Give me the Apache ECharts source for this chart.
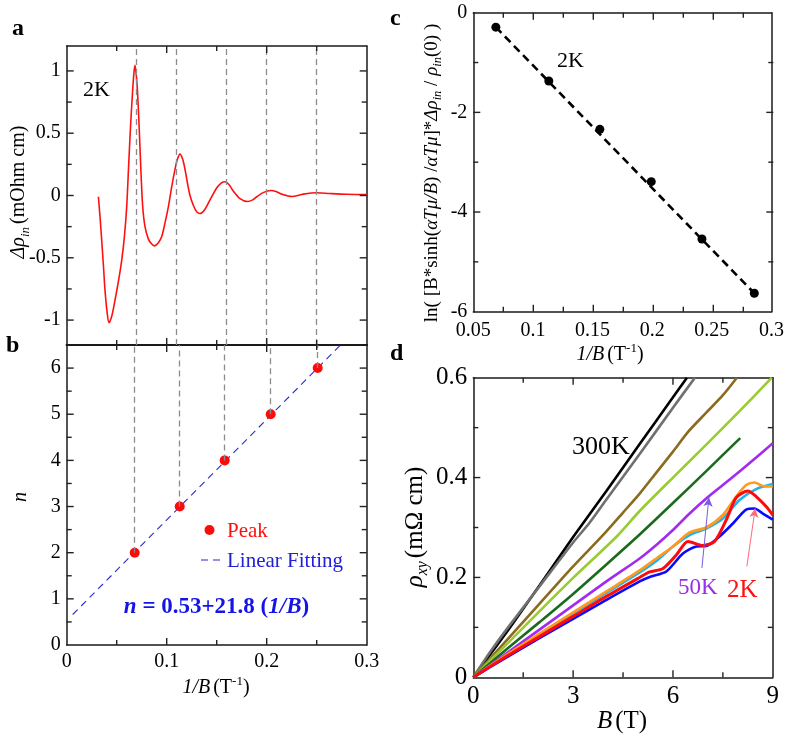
<!DOCTYPE html>
<html><head><meta charset="utf-8">
<script src="https://cdn.jsdelivr.net/npm/echarts@6/dist/echarts.min.js"></script>
<style>html,body{margin:0;padding:0;background:#fff}#c{width:787px;height:736px}</style>
</head><body><div id="c"></div>
<script>
// ---------------- DATA ----------------
// Panel a: Δρ_in vs 1/B (2K)
const aInvB = [0.0317,0.0335,0.0350,0.0367,0.0383,0.0403,0.0423,0.0450,0.0483,0.0517,0.0550,0.0577,0.0600,0.0620,0.0640,0.0660,0.0673,0.0683,0.0693,0.0707,0.0727,0.0743,0.0760,0.0783,0.0817,0.0850,0.0877,0.0917,0.0950,0.0983,0.1017,0.1050,0.1083,0.1107,0.1133,0.1160,0.1183,0.1210,0.1233,0.1267,0.1300,0.1333,0.1383,0.1433,0.1500,0.1545,0.1583,0.1620,0.1667,0.1733,0.1807,0.1860,0.1900,0.1970,0.2040,0.2100,0.2150,0.2250,0.2367,0.2500,0.2633,0.2800,0.3000];
const aDrho = [-0.01,-0.19,-0.36,-0.56,-0.76,-0.93,-1.02,-0.97,-0.84,-0.69,-0.52,-0.33,-0.09,0.25,0.58,0.85,0.99,1.045,0.99,0.85,0.50,0.18,-0.09,-0.25,-0.35,-0.39,-0.404,-0.38,-0.33,-0.22,-0.09,0.07,0.21,0.29,0.332,0.29,0.21,0.09,0.0,-0.08,-0.13,-0.145,-0.11,-0.035,0.06,0.10,0.11,0.09,0.035,-0.025,-0.048,-0.035,-0.01,0.025,0.04,0.03,0.011,-0.008,0.011,0.022,0.016,0.01,0.007];
// Panel b: Landau level index of peaks
const peakInvB = [0.068, 0.113, 0.158, 0.204, 0.251];
const peakN = [2, 3, 4, 5, 6];
const fitIntercept = 0.53, fitSlope = 21.8;
const fitInvBRange = [0.006, 0.2735];
// Panel c
const cInvB = [0.0689, 0.1133, 0.1561, 0.1992, 0.2417, 0.2856];
const cLn = [-0.29, -1.37, -2.34, -3.39, -4.54, -5.63];
// Panel d: ρxy vs B at several temperatures
const d300KB = [0,1,2,3,4,5,6,6.42];
const d300KR = [0,0.09,0.185,0.281,0.373,0.467,0.561,0.6];
const dGrayB = [0,0.5,1,2,3,3.5,4,5,6,6.66];
const dGrayR = [0,0.05,0.096,0.183,0.27,0.31,0.356,0.447,0.54,0.6];
const dBrownB = [0,1,2,3,3.86,4.5,5,5.5,6,6.46,7,7.5,7.92];
const dBrownR = [0,0.074,0.148,0.222,0.282,0.33,0.368,0.41,0.452,0.492,0.53,0.565,0.6];
const dLimeB = [0,1,2,3,4.31,5,6,7,8,8.97];
const dLimeR = [0,0.066,0.133,0.199,0.282,0.333,0.4,0.466,0.533,0.6];
const dGreenB = [0,1,2,3,4,5,6,7,8.02];
const dGreenR = [0,0.056,0.111,0.167,0.226,0.286,0.349,0.413,0.479];
const d50KB = [0,1,2,3,4,5,5.5,6,6.5,7,7.5,8,8.5,9];
const d50KR = [0,0.048,0.096,0.144,0.192,0.238,0.265,0.295,0.328,0.358,0.385,0.412,0.44,0.469];
const dCyanB = [0,1,2,3,4,5,5.5,6,6.5,7,7.5,8,8.5,9];
const dCyanR = [0,0.044,0.086,0.128,0.169,0.21,0.233,0.262,0.285,0.298,0.318,0.355,0.377,0.387];
const dOrangeB = [0,1,2,3,4,5,5.5,6,6.5,7,7.5,7.9,8.2,8.45,8.7,9];
const dOrangeR = [0,0.045,0.088,0.13,0.172,0.214,0.238,0.262,0.29,0.3,0.325,0.362,0.385,0.39,0.383,0.382];
const dBlueB = [0,1,2,3,4,5,5.3,5.8,6.3,6.7,7.0,7.4,7.8,8.2,8.45,8.7,9];
const dBlueR = [0,0.04,0.079,0.117,0.155,0.192,0.201,0.212,0.248,0.262,0.263,0.282,0.308,0.336,0.338,0.328,0.316];
const d2KB = [0,1,2,3,4,5,5.3,5.7,6.1,6.45,6.9,7.25,7.6,7.9,8.25,8.5,8.8,9];
const d2KR = [0,0.042,0.082,0.122,0.162,0.2,0.211,0.218,0.245,0.272,0.264,0.272,0.315,0.36,0.373,0.362,0.342,0.325];

// ---------------- LAYOUT / HELPERS ----------------
const GA = {left: 66.7, top: 46, width: 300, height: 299};
const GB = {left: 66.7, top: 345, width: 300, height: 300};
const GC = {left: 473.3, top: 12.7, width: 300, height: 299};
const GD = {left: 473.3, top: 377.7, width: 299.5, height: 299.6};
const zip = (xs, ys) => xs.map((x, i) => [x, ys[i]]);
const FONT = "'Liberation Serif', 'Times New Roman', 'DejaVu Serif', serif";
const INK = '#1a1a1a';

function xAx(grid, pos, min, max, interval, showLabel, fs, lw) {
  return {
    type: 'value', gridIndex: grid, position: pos, min: min, max: max, interval: interval,
    axisLine: {show: true, onZero: false, lineStyle: {color: INK, width: lw || 1.5}},
    axisTick: {show: false}, minorTick: {show: false},
    splitLine: {show: false}, minorSplitLine: {show: false},
    axisLabel: {show: showLabel, margin: 7, fontFamily: FONT, fontSize: fs || 20, color: '#000'}
  };
}
function yAx(grid, pos, min, max, interval, showLabel, fs, fmt) {
  const ax = {
    type: 'value', gridIndex: grid, position: pos, min: min, max: max,
    axisLine: {show: true, onZero: false, lineStyle: {color: INK, width: 1.5}},
    axisTick: {show: false}, minorTick: {show: false},
    splitLine: {show: false}, minorSplitLine: {show: false},
    axisLabel: {show: showLabel, margin: 6, fontFamily: FONT, fontSize: fs || 20, color: '#000'}
  };
  if (interval != null) ax.interval = interval; else ax.splitNumber = 5;
  if (fmt) ax.axisLabel.formatter = fmt;
  return ax;
}
const fmtA = v => (Math.abs(v * 2 - Math.round(v * 2)) < 1e-6 ? String(Math.round(v * 2) / 2) : '');
const fmtB = v => (Number.isInteger(v) ? String(v) : '');

function steps(lo, hi, step) {
  const out = [];
  const n = Math.round((hi - lo) / step);
  for (let k = 0; k <= n; k++) out.push(+(lo + k * step).toFixed(6));
  return out;
}

function txt(x, y, rich, parts, extra) {
  return {
    type: 'text', x: x, y: y, silent: true,
    style: Object.assign({text: parts, align: 'center', verticalAlign: 'middle', rich: rich, fontFamily: FONT}, extra || {})
  };
}
const R20 = {
  n: {fontFamily: FONT, fontSize: 20, lineHeight: 26, fill: '#000'},
  i: {fontFamily: FONT, fontSize: 20, lineHeight: 26, fontStyle: 'italic', fill: '#000'},
  sub: {fontFamily: FONT, fontSize: 13, lineHeight: 13, fontStyle: 'italic', verticalAlign: 'bottom', fill: '#000'},
  sup: {fontFamily: FONT, fontSize: 13, lineHeight: 14, verticalAlign: 'top', fill: '#000'}
};
const R18 = {
  n: {fontFamily: FONT, fontSize: 19, lineHeight: 24, fill: '#000'},
  i: {fontFamily: FONT, fontSize: 19, lineHeight: 24, fontStyle: 'italic', fill: '#000'},
  sub: {fontFamily: FONT, fontSize: 12.5, lineHeight: 12, fontStyle: 'italic', verticalAlign: 'bottom', fill: '#000'}
};
const R25 = {
  n: {fontFamily: FONT, fontSize: 25, lineHeight: 32, fill: '#000'},
  i: {fontFamily: FONT, fontSize: 25, lineHeight: 32, fontStyle: 'italic', fill: '#000'},
  sub: {fontFamily: FONT, fontSize: 16, lineHeight: 16, fontStyle: 'italic', verticalAlign: 'bottom', fill: '#000'}
};
const RF = {
  b: {fontFamily: FONT, fontSize: 23, fontWeight: 'bold', fill: '#1414e6'},
  bi: {fontFamily: FONT, fontSize: 23, fontWeight: 'bold', fontStyle: 'italic', fill: '#1414e6'}
};

const lineD = (name, xs, ys, color, extra) => Object.assign({
  name: name, type: 'line', xAxisIndex: 6, yAxisIndex: 6, data: zip(xs, ys),
  showSymbol: false, symbol: 'none', smooth: 0.25,
  lineStyle: {color: color, width: 2.6}, itemStyle: {color: color}, z: 3
}, extra || {});

const gridTopN = 6.5;

// ---- inward tick marks on all four sides of each panel (axis decoration) ----
const tickDefs = [
  {g: GA, xr: [0, 0.3], yr: [-1.2, 1.2], xt: steps(0, 0.3, 0.05), yt: steps(-1, 1, 0.25), xm: 0.1, ym: 0.5},
  {g: GB, xr: [0, 0.3], yr: [0, gridTopN], xt: steps(0, 0.3, 0.05), yt: steps(0, 6.5, 0.5), xm: 0.1, ym: 1},
  {g: GC, xr: [0.05, 0.3], yr: [-6, 0], xt: steps(0.05, 0.3, 0.025), yt: steps(-6, 0, 1), xm: 0.05, ym: 2},
  {g: GD, xr: [0, 9], yr: [0, 0.6], xt: steps(0, 9, 1.5), yt: steps(0, 0.6, 0.1), xm: 3, ym: 0.2}
];
const isMaj = (v, m) => Math.abs(v / m - Math.round(v / m)) < 1e-6;
function buildTicks() {
  const els = [];
  const mk = (x1, y1, x2, y2) => ({type: 'line', silent: true, z: 50,
    shape: {x1: x1, y1: y1, x2: x2, y2: y2}, style: {stroke: '#222', lineWidth: 1.4}});
  tickDefs.forEach(d => {
    const g = d.g;
    const X = v => g.left + (v - d.xr[0]) / (d.xr[1] - d.xr[0]) * g.width;
    const Y = v => g.top + (d.yr[1] - v) / (d.yr[1] - d.yr[0]) * g.height;
    const bottom = g.top + g.height, top = g.top, left = g.left, right = g.left + g.width;
    d.xt.forEach(v => {
      if (v <= d.xr[0] + 1e-9 || v >= d.xr[1] - 1e-9) return;
      const L = isMaj(v, d.xm) ? 7 : 5;
      const px = X(v);
      els.push(mk(px, bottom, px, bottom - L));
      els.push(mk(px, top, px, top + L));
    });
    d.yt.forEach(v => {
      if (v <= d.yr[0] + 1e-9 || v >= d.yr[1] - 1e-9) return;
      const L = isMaj(v, d.ym) ? 7 : 5;
      const py = Y(v);
      els.push(mk(left, py, left + L, py));
      els.push(mk(right, py, right - L, py));
    });
  });
  return els;
}

const xAxes = [
  xAx(0, 'bottom', 0, 0.3, 0.1, false, 20, 2),
  xAx(0, 'top', 0, 0.3, 0.1, false),
  xAx(1, 'bottom', 0, 0.3, 0.1, true),
  xAx(1, 'top', 0, 0.3, 0.1, false, 20, 2),
  xAx(2, 'bottom', 0.05, 0.3, 0.05, true),
  xAx(2, 'top', 0.05, 0.3, 0.05, false),
  xAx(3, 'bottom', 0, 9, 3, true, 25),
  xAx(3, 'top', 0, 9, 3, false)
];
xAxes[4].axisLabel.margin = 9;

const tickEls = buildTicks();

const baseGraphic = tickEls.concat([
  {type: 'text', x: 12, y: 29, silent: true, style: {text: 'a', fontFamily: FONT, fontSize: 24, fontWeight: 'bold', fill: '#000', verticalAlign: 'middle'}},
  {type: 'text', x: 6, y: 346, silent: true, style: {text: 'b', fontFamily: FONT, fontSize: 24, fontWeight: 'bold', fill: '#000', verticalAlign: 'middle'}},
  {type: 'text', x: 390, y: 19, silent: true, style: {text: 'c', fontFamily: FONT, fontSize: 24, fontWeight: 'bold', fill: '#000', verticalAlign: 'middle'}},
  {type: 'text', x: 390, y: 354, silent: true, style: {text: 'd', fontFamily: FONT, fontSize: 24, fontWeight: 'bold', fill: '#000', verticalAlign: 'middle'}},
  Object.assign(txt(19, 192, R20, '{i|Δρ}{sub|in} {n|(mOhm cm)}'), {rotation: Math.PI / 2}),
  Object.assign(txt(21, 497, R20, '{i|n}'), {rotation: Math.PI / 2}),
  txt(216, 688, R20, '{i|1/B} {n|(T}{sup|-1}{n|)}'),
  Object.assign(txt(432, 173, R18, '{n|ln( [B*sinh(}{i|αTμ/B}{n|) /}{i|αTμ}{n|]*}{i|Δρ}{sub|in}{n| / }{i|ρ}{sub|in}{n|(0) )}'), {rotation: Math.PI / 2}),
  txt(610, 355, R20, '{i|1/B} {n|(T}{sup|-1}{n|)}'),
  Object.assign(txt(415, 527, R25, '{i|ρ}{sub|xy} {n|(mΩ cm)}'), {rotation: Math.PI / 2}),
  txt(622, 721, R25, '{i|B} {n|(T)}'),
  {type: 'text', x: 83, y: 90, silent: true, style: {text: '2K', fontFamily: FONT, fontSize: 22, fill: '#000', verticalAlign: 'middle'}},
  {type: 'text', x: 557, y: 61, silent: true, style: {text: '2K', fontFamily: FONT, fontSize: 22, fill: '#000', verticalAlign: 'middle'}},
  {type: 'text', x: 572, y: 447, silent: true, style: {text: '300K', fontFamily: FONT, fontSize: 26, fill: '#000', verticalAlign: 'middle'}},
  {type: 'text', x: 678, y: 588, silent: true, style: {text: '50K', fontFamily: FONT, fontSize: 23, fill: '#9a2ee8', verticalAlign: 'middle'}},
  {type: 'text', x: 727, y: 590, silent: true, style: {text: '2K', fontFamily: FONT, fontSize: 25, fill: '#ff1010', verticalAlign: 'middle'}},
  {type: 'circle', silent: true, shape: {cx: 209.5, cy: 530, r: 5}, style: {fill: '#ff0a0a'}},
  {type: 'text', x: 227, y: 531, silent: true, style: {text: 'Peak', fontFamily: FONT, fontSize: 21, fill: '#ff1010', verticalAlign: 'middle'}},
  {type: 'line', silent: true, shape: {x1: 201, y1: 560, x2: 222, y2: 560}, style: {stroke: '#2a2ad0', lineWidth: 1.1, lineDash: [7, 5]}},
  {type: 'text', x: 227, y: 561, silent: true, style: {text: 'Linear Fitting', fontFamily: FONT, fontSize: 21, fill: '#2020d8', verticalAlign: 'middle'}},
  txt(216.5, 607, RF, '{bi|n}{b| = 0.53+21.8 (}{bi|1/B}{b|)}')
]);

const option = {
  backgroundColor: '#fff',
  animation: false,
  textStyle: {fontFamily: FONT, color: '#000'},
  grid: [GA, GB, GC, GD],
  xAxis: xAxes,
  yAxis: [
    yAx(0, 'left', -1.2, 1.2, null, true, 20, fmtA),
    yAx(0, 'right', -1.2, 1.2, null, false),
    yAx(1, 'left', 0, gridTopN, 1, true, 20, fmtB),
    yAx(1, 'right', 0, gridTopN, 1, false),
    yAx(2, 'left', -6, 0, 2, true, 20),
    yAx(2, 'right', -6, 0, 2, false),
    yAx(3, 'left', 0, 0.6, 0.2, true, 25),
    yAx(3, 'right', 0, 0.6, 0.2, false)
  ],
  series: [
    // ---- panel a ----
    {
      name: 'Δρin 2K', type: 'line', xAxisIndex: 0, yAxisIndex: 0, data: zip(aInvB, aDrho),
      showSymbol: false, symbol: 'none', smooth: 0.3,
      lineStyle: {color: '#ff1010', width: 1.6}, z: 3,
      markLine: {
        silent: true, symbol: 'none', label: {show: false},
        lineStyle: {color: '#8c8c8c', width: 1.3, type: [6, 4]},
        data: peakInvB.map(x => ({xAxis: x}))
      }
    },
    // ---- panel b ----
    {
      name: 'Linear Fitting', type: 'line', xAxisIndex: 2, yAxisIndex: 2,
      data: fitInvBRange.map(x => [x, fitIntercept + fitSlope * x]),
      showSymbol: false, symbol: 'none',
      lineStyle: {color: '#2a2ad0', width: 1.1, type: [7, 5]}, z: 2
    },
    {
      name: 'Peak', type: 'scatter', xAxisIndex: 2, yAxisIndex: 2, data: zip(peakInvB, peakN),
      symbol: 'circle', symbolSize: 10, itemStyle: {color: '#ff0a0a', opacity: 1}, z: 4,
      markLine: {
        silent: true, symbol: 'none', label: {show: false},
        lineStyle: {color: '#8c8c8c', width: 1.3, type: [6, 4]},
        data: peakInvB.map((x, i) => [{coord: [x, peakN[i]]}, {coord: [x, gridTopN]}])
      }
    },
    // ---- panel c ----
    {
      name: 'fit c', type: 'line', xAxisIndex: 4, yAxisIndex: 4,
      data: [[cInvB[0], cLn[0]], [cInvB[cInvB.length - 1], cLn[cLn.length - 1]]],
      showSymbol: false, symbol: 'none',
      lineStyle: {color: '#000', width: 2.6, type: [8, 5]}, z: 2
    },
    {
      name: 'ln amplitude', type: 'scatter', xAxisIndex: 4, yAxisIndex: 4, data: zip(cInvB, cLn),
      symbol: 'circle', symbolSize: 9, itemStyle: {color: '#000', opacity: 1}, z: 4
    },
    // ---- panel d ----
    lineD('300K', d300KB, d300KR, '#000000'),
    lineD('T2', dGrayB, dGrayR, '#707070'),
    lineD('T3', dBrownB, dBrownR, '#8b6b1e'),
    lineD('T4', dLimeB, dLimeR, '#9acb30'),
    lineD('T5', dGreenB, dGreenR, '#1c6a1c'),
    lineD('50K', d50KB, d50KR, '#a12cf0', {
      markLine: {
        silent: true, symbol: ['none', 'arrow'], symbolSize: [7, 9], label: {show: false},
        lineStyle: {color: '#7a5ae6', width: 1, type: 'solid'},
        data: [[{coord: [6.87, 0.219]}, {coord: [7.08, 0.36]}]]
      }
    }),
    lineD('T7', dCyanB, dCyanR, '#22b2ea'),
    lineD('T8', dOrangeB, dOrangeR, '#ff9a1e'),
    lineD('T9', dBlueB, dBlueR, '#0a0aff'),
    lineD('2K', d2KB, d2KR, '#ff0a0a', {
      lineStyle: {color: '#ff0a0a', width: 3},
      markLine: {
        silent: true, symbol: ['none', 'arrow'], symbolSize: [7, 9], label: {show: false},
        lineStyle: {color: '#ff6a7a', width: 1, type: 'solid'},
        data: [[{coord: [8.22, 0.222]}, {coord: [8.47, 0.338]}]]
      }
    })
  ],
  graphic: baseGraphic
};

const chart = echarts.init(document.getElementById('c'), null, {renderer: 'canvas', width: 787, height: 736});
try { chart.setOption(option); } catch (e) { console.error(e); }
</script>
</body></html>
